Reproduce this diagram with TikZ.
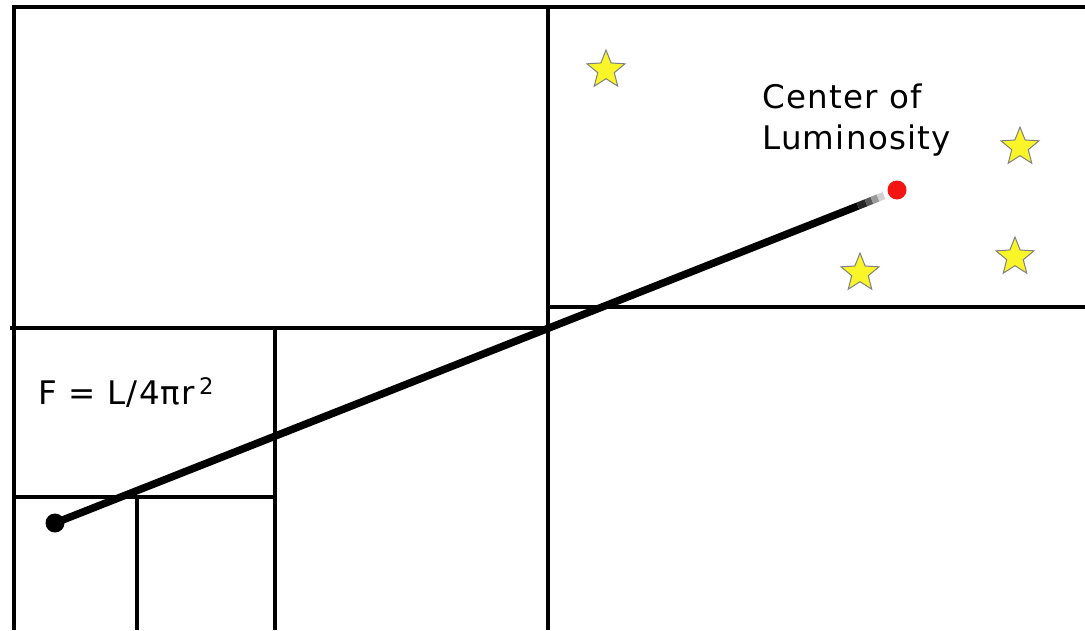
\documentclass[tikz,border=0pt]{standalone}
\usepackage{fontspec}
\setmainfont{DejaVu Sans}
\newfontfamily\spacedsans[LetterSpace=4]{DejaVu Sans}
\usetikzlibrary{shapes.geometric}
\begin{document}
\begin{tikzpicture}[x=1pt,y=-1pt,
  grid/.style={line width=3.6pt},
  ray/.style={line width=7.5pt},
  starry/.style={star, star points=5, star point ratio=2.3, minimum size=40pt, inner sep=0pt, fill={rgb,255:red,250;green,245;blue,40}, draw=gray, line width=1pt},
  lbl/.style={font=\spacedsans\fontsize{32.5}{41}\selectfont, inner sep=0pt, align=left}]
\useasboundingbox (0,0) rectangle (1085,630);
% grid
\draw[grid] (12,7) -- (1085,7);
\draw[grid] (14,7) -- (14,630);
\draw[grid] (548,7) -- (548,630);
\draw[grid] (10,328) -- (548,328);
\draw[grid] (548,307) -- (1085,307);
\draw[grid] (275,328) -- (275,630);
\draw[grid] (14,497) -- (275,497);
\draw[grid] (137,497) -- (137,630);
% dots
\node[circle, fill=black, minimum size=19pt, inner sep=0pt] (obs) at (55,523) {};
\node[circle, fill={rgb,255:red,245;green,20;blue,20}, minimum size=19pt, inner sep=0pt] (col) at (897,190) {};
\coordinate (f0) at (858,206);
\coordinate (f1) at (866,202.8);
\coordinate (f2) at (872,200.4);
\coordinate (f3) at (878,198);
\coordinate (f4) at (884,195.6);
\draw[ray] (obs.center) -- (f0);
\draw[ray, black!85] (f0) -- (f1);
\draw[ray, black!65] (f1) -- (f2);
\draw[ray, black!40] (f2) -- (f3);
\draw[ray, black!18] (f3) -- (f4);
% stars
\node[starry] (s1) at (606,70) {};
\node[starry] (s2) at (1020,147) {};
\node[starry] (s3) at (860,273) {};
\node[starry] (s4) at (1015,257) {};
% labels
\node[lbl, anchor=north west] (cl) at (762,84) {Center of\\Luminosity};
\node[lbl, anchor=base west] (fl) at (38,404) {F = L/4πr\textsuperscript{\,2}};
\end{tikzpicture}
\end{document}
